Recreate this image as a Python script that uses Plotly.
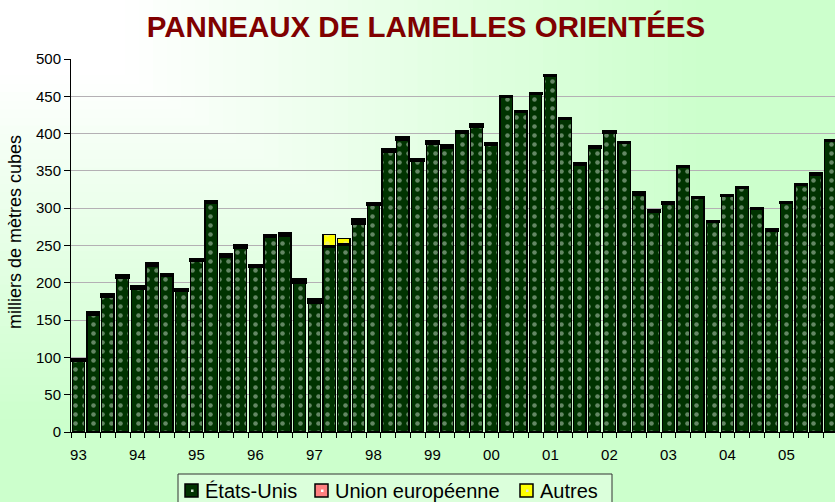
import plotly.graph_objects as go

# Quarterly OSB volumes, 1993 Q1 - 2005 Q4 (thousand cubic metres)
years = ["93", "94", "95", "96", "97", "98", "99", "00", "01", "02", "03", "04", "05"]
quarters_per_year = 4

etats_unis = [95.3, 157.3, 181.7, 207.3, 192.3, 223.3, 209.3, 189.5,
              229.5, 307.3, 235.3, 247.3, 221.3, 261.3, 263.3, 200.5,
              173.3, 248, 250, 280, 304, 375.7, 391.9, 363.1,
              386.7, 381.4, 401.6, 409.1, 385.1, 449.3, 428.5, 453.3,
              477.3, 419.3, 358, 381, 401.6, 386.8, 318.4, 295,
              306, 355, 313, 281, 316, 327, 299, 270,
              307, 331, 345, 390]
union_europeenne = [2.7, 2.7, 3.3, 2.7, 2.7, 2.7, 2.7, 2.5,
                    2.5, 2.7, 2.7, 2.7, 2.7, 2.7, 2.7, 3.5,
                    3.7, 2, 2, 4, 2.5, 3.3, 3.1, 2.9,
                    3.3, 2.6, 2.4, 2.9, 1.9, 1.7, 1.5, 1.7,
                    1.7, 1.7, 2, 2, 2.4, 2.2, 2.6, 2,
                    2, 2, 2, 2, 2, 2, 2, 2,
                    2, 2, 2, 2]
autres = [None] * 52
autres[10] = 1
autres[14] = 1
autres[17] = 15
autres[18] = 7
autres[20] = 1.5

series_names = ["États-Unis", "Union européenne", "Autres"]
series_colors = ["#003300", "#ff8080", "#ffff00"]
dot_colors = ["#c8dcc8", "#ffffff", "#e0e0e0"]

n = len(etats_unis)
x = list(range(n))

# figure geometry (pixels)
W, H = 835, 502
L, R, T, B = 71, 0, 59, 70
pw, ph = W - L - R, H - T - B
px_per_unit = ph / 500.0


def px_x(px):
    return (px - L) / pw


def px_y(py):
    return (H - B - py) / ph


# the thin EU segments read as a solid black cap on each bar
eu_line = [max(1.2, v * px_per_unit + 0.4) for v in union_europeenne]

fig = go.Figure()
for name, values, color, dot, lw in zip(
        series_names, [etats_unis, union_europeenne, autres],
        series_colors, dot_colors, [1.2, eu_line, 1.2]):
    fig.add_trace(go.Bar(
        name=name, x=x, y=values, showlegend=False,
        marker=dict(
            color=color,
            line=dict(color="black", width=lw),
            pattern=dict(shape=".", fillmode="overlay", fgcolor=dot,
                         size=9, solidity=0.2),
        ),
    ))

shapes = []

# corner gradient background: white at top-left fading to pale green
steps = 60
c0 = (255, 255, 255)
c1 = (204, 255, 204)
for i in range(steps, 0, -1):
    s = i / steps
    t = min(1.0, max(0.0, (s - 0.15) / 0.7))
    col = tuple(round(a + (b - a) * t) for a, b in zip(c0, c1))
    shapes.append(dict(
        type="rect", xref="paper", yref="paper", layer="below",
        x0=px_x(0), x1=px_x(s * W), y0=px_y(s * H), y1=px_y(0),
        line=dict(width=0), fillcolor="rgb(%d,%d,%d)" % col,
    ))

# legend box along the bottom edge
annotations = []
shapes.append(dict(
    type="rect", xref="paper", yref="paper", layer="above",
    x0=px_x(178), x1=px_x(612), y0=px_y(506), y1=px_y(474),
    line=dict(color="#333333", width=1),
    fillcolor="rgba(255,255,255,0.3)",
))
legend_items = [(185, 205), (315, 335), (520, 540)]
for (sx, tx), name, color, dot in zip(legend_items, series_names,
                                      series_colors, dot_colors):
    shapes.append(dict(
        type="rect", xref="paper", yref="paper", layer="above",
        x0=px_x(sx), x1=px_x(sx + 13), y0=px_y(497), y1=px_y(484),
        line=dict(color="black", width=1.5), fillcolor=color,
    ))
    shapes.append(dict(
        type="rect", xref="paper", yref="paper", layer="above",
        x0=px_x(sx + 6), x1=px_x(sx + 8.5), y0=px_y(492), y1=px_y(489.5),
        line=dict(width=0), fillcolor=dot,
    ))
    annotations.append(dict(
        text=name, xref="paper", yref="paper", showarrow=False,
        x=px_x(tx - 2), xanchor="left", y=px_y(490.5), yanchor="middle",
        font=dict(size=20, color="black"),
    ))

# vertical axis caption
annotations.append(dict(
    text="milliers de mètres cubes", xref="paper", yref="paper",
    showarrow=False, textangle=-90,
    x=px_x(15), xanchor="center", y=px_y(232), yanchor="middle",
    font=dict(size=18, color="black"),
))

tickvals = [i * quarters_per_year for i in range(len(years))]

fig.update_layout(
    width=W, height=H,
    margin=dict(l=L, r=R, t=T, b=B, pad=0),
    barmode="stack",
    bargap=0.17,
    showlegend=False,
    paper_bgcolor="rgba(0,0,0,0)",
    plot_bgcolor="rgba(0,0,0,0)",
    shapes=shapes,
    annotations=annotations,
    font=dict(family="Liberation Sans, Arial, sans-serif", color="black"),
    title=dict(
        text="<b>PANNEAUX DE LAMELLES ORIENTÉES</b>",
        x=426 / W, xref="container", xanchor="center",
        y=1 - 27 / H, yref="container", yanchor="middle",
        font=dict(size=29.5, color="#800000"),
    ),
    xaxis=dict(
        range=[-0.5, -0.5 + pw / 14.75],
        tickmode="array", tickvals=tickvals, ticktext=years,
        ticks="outside", ticklen=9, tickcolor="rgba(0,0,0,0)",
        tickfont=dict(size=15),
        showline=True, linecolor="black", linewidth=1,
        showgrid=False, zeroline=False,
        minor=dict(tickmode="array",
                   tickvals=[i - 0.5 for i in range(n + 1)],
                   ticks="outside", ticklen=5, tickcolor="black",
                   showgrid=False),
    ),
    yaxis=dict(
        range=[0, 500], dtick=50,
        ticks="outside", ticklen=6, tickcolor="black",
        tickfont=dict(size=15),
        showline=True, linecolor="black", linewidth=1,
        showgrid=True, gridcolor="#b4b0b4", gridwidth=1,
        zeroline=False,
    ),
)

fig.write_html("out.html")
